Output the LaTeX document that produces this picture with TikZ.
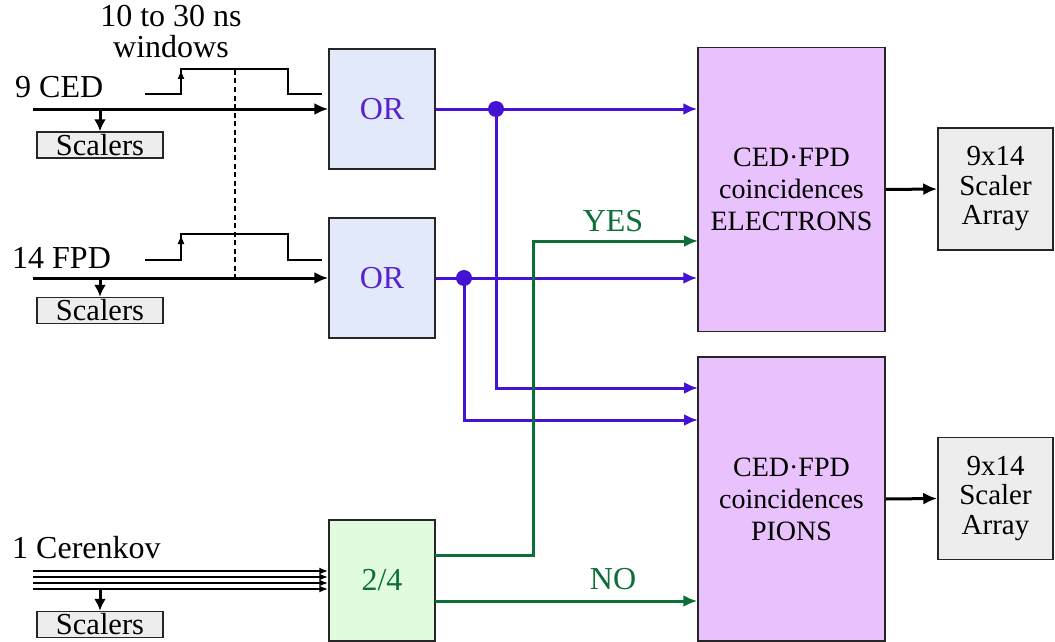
\documentclass[tikz,border=0pt]{standalone}
\usepackage{fontspec}
\setmainfont{Liberation Serif}
\usetikzlibrary{arrows.meta}
\definecolor{vio}{HTML}{4512D4}
\definecolor{vtext}{HTML}{5A22CF}
\definecolor{grn}{HTML}{0D6E38}
\definecolor{orfill}{HTML}{E2E9FA}
\definecolor{cofill}{HTML}{E9C2FD}
\definecolor{gfill}{HTML}{E0FBDD}
\definecolor{sfill}{HTML}{EDEDED}
\begin{document}
\begin{tikzpicture}[x=1pt,y=-1pt,
  font=\fontsize{32}{32}\selectfont,
  blk/.style={draw=black!85, line width=1.5pt, inner sep=0pt},
  orbox/.style={blk, fill=orfill, text=vtext, minimum width=106pt, minimum height=120pt},
  cobox/.style={blk, fill=cofill, align=center, minimum width=187pt, minimum height=284pt, font=\fontsize{28}{32}\selectfont},
  sabox/.style={blk, fill=sfill, align=center, minimum width=115pt, minimum height=122pt, font=\fontsize{29}{29.5}\selectfont},
  scbox/.style={blk, fill=sfill, minimum width=126pt, minimum height=26pt, font=\fontsize{30.5}{31}\selectfont},
  sig/.style={line width=3pt, -{Latex[length=14pt,width=12pt]}},
  vl/.style={sig, draw=vio},
  gl/.style={sig, draw=grn},
  pulse/.style={line width=1.3pt},
  lbl/.style={anchor=base west, inner sep=0pt}
]
\useasboundingbox (0,0) rectangle (1055,642);

% boxes
\node[orbox] (or1) at (382,109) {OR};
\node[orbox] (or2) at (382,278) {OR};
\node[blk, fill=gfill, text=grn, minimum width=106pt, minimum height=121pt] (tf) at (382,580.5) {2/4};
\node[cobox] (elec) at (791.5,189.5) {CED·FPD\\coincidences\\ELECTRONS};
\node[cobox] (pion) at (791.5,499) {CED·FPD\\coincidences\\PIONS};
\node[sabox] (sa1) at (995.5,189) {9x14\\Scaler\\Array};
\node[sabox] (sa2) at (995.5,498.5) {9x14\\Scaler\\Array};
\node[scbox] (sc1) at (100,145) {Scalers};
\node[scbox] (sc2) at (100,310.5) {Scalers};
\node[scbox] (sc3) at (100,624.5) {Scalers};

% labels
\node[lbl] (lced) at (15,97) {9 CED};
\node[lbl] (lfpd) at (12,268) {14 FPD};
\node[lbl] (lcer) at (12,558) {1 Cerenkov};
\node[align=center, inner sep=0pt, anchor=base] (lwin) at (171,58) {10 to 30 ns\\windows};
\node[anchor=base, inner sep=0pt, text=grn] (lyes) at (613,231) {YES};
\node[anchor=base, inner sep=0pt, text=grn] (lno) at (613,589) {NO};

% input lines
\coordinate (cin) at (33,109);
\coordinate (fin) at (33,278);
\draw[sig] (cin) -- (or1.west);
\draw[sig] (fin) -- (or2.west);
\coordinate (cd) at (100,109);
\coordinate (fd) at (100,278);
\draw[sig, -{Latex[length=12pt,width=12pt]}] (cd) -- (sc1.north);
\draw[sig, -{Latex[length=12pt,width=12pt]}] (fd) -- (sc2.north);

% Cerenkov lines
\foreach \yy in {571,577,583,589}{
  \coordinate (cs) at (33,\yy);
  \draw[line width=1.8pt, -{Latex[length=9pt,width=7pt]}] (cs) -- (cs -| tf.west);
}
\coordinate (cerd) at (100,589);
\draw[sig, -{Latex[length=12pt,width=12pt]}] (cerd) -- (sc3.north);

% pulses
\draw[pulse] (145,94) -- (181,94) -- (181,69) -- (288,69) -- (288,94) -- (322,94);
\draw[pulse, -{Latex[length=9pt,width=7pt]}] (181,94) -- (181,70);
\draw[pulse] (145,260) -- (181,260) -- (181,234) -- (288,234) -- (288,260) -- (322,260);
\draw[pulse, -{Latex[length=9pt,width=7pt]}] (181,260) -- (181,235);
\draw[line width=1.2pt, dash pattern=on 5pt off 3.5pt] (235,70) -- (235,278);

% violet connections
\coordinate (j1) at (496,109);
\coordinate (j2) at (464,278);
\coordinate (pa) at (698,388);
\coordinate (pb) at (698,420);
\draw[vl] (or1.east) -- (or1.east -| elec.west);
\draw[vl] (or2.east) -- (or2.east -| elec.west);
\draw[vl] (j1) |- (pa);
\draw[vl] (j2) |- (pb);
\fill[vio] (j1) circle (8);
\fill[vio] (j2) circle (8);

% green connections
\coordinate (ga) at (435,555);
\coordinate (gb) at (435,601);
\coordinate (gbend) at (533,400);
\coordinate (ge) at (698,241);
\draw[gl] (ga) -| (gbend) |- (ge);
\draw[gl] (gb) -- (gb -| pion.west);

% outputs
\draw[sig] (elec.east) -- (sa1.west);
\draw[sig] (pion.east) -- (sa2.west);
\end{tikzpicture}
\end{document}
